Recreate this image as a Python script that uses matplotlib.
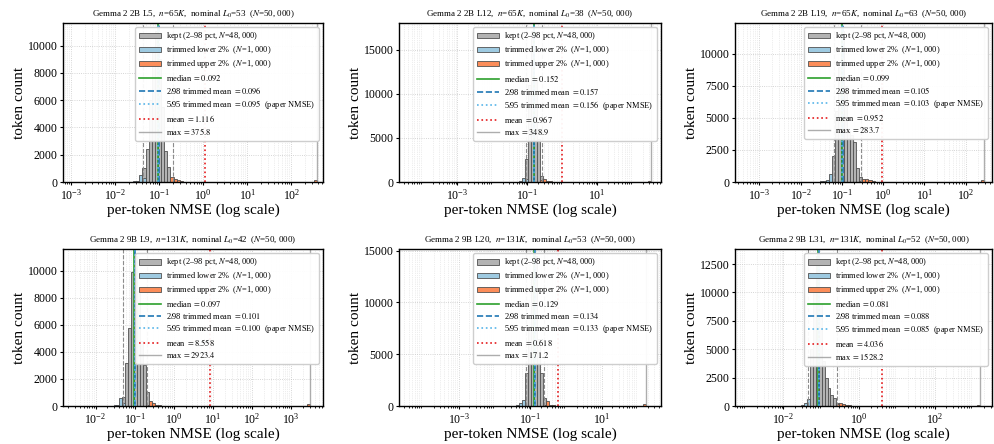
import numpy as np
import matplotlib
matplotlib.use("Agg")
import matplotlib.pyplot as plt
from matplotlib.ticker import LogLocator

plt.rcParams["font.family"] = "serif"
plt.rcParams["font.serif"] = ["Liberation Serif", "DejaVu Serif"]
plt.rcParams["mathtext.fontset"] = "stix"

# --- panel metadata -------------------------------------------------------
models = ["2B", "2B", "2B", "9B", "9B", "9B"]
layers = [5, 12, 19, 9, 20, 31]
widths = ["65", "65", "65", "131", "131", "131"]   # thousands of latents
nominal_l0 = [53, 38, 63, 42, 53, 52]
n_tokens = 50000
n_kept = 48000
n_trim = 1000

# --- summary statistics (per-token NMSE) ----------------------------------
nmse_min = [8.3e-4, 4.9e-5, 3.5e-4, 2.5e-3, 4.5e-5, 1.0e-3]
nmse_max = [375.8, 348.9, 283.7, 2923.4, 171.2, 1528.2]
medians = [0.092, 0.152, 0.099, 0.097, 0.129, 0.081]
tmean_2_98 = [0.096, 0.157, 0.105, 0.101, 0.134, 0.088]
tmean_5_95 = [0.095, 0.156, 0.103, 0.100, 0.133, 0.085]
means = [1.116, 0.967, 0.952, 8.558, 0.618, 4.036]
pct_2 = [0.0433, 0.094, 0.064, 0.0508, 0.0776, 0.0455]
pct_98 = [0.206, 0.26, 0.297, 0.208, 0.251, 0.264]
n_bins = 80

# --- histogram counts on 80 log bins (min..max): {bin index: tokens} -----
kept_counts = [
    {24: 1000, 25: 2450, 26: 6000, 27: 9500, 28: 11100, 29: 9000, 30: 5500,
     31: 2300, 32: 1100, 33: 50},
    {38: 2600, 39: 11000, 40: 17200, 41: 11500, 42: 4900, 43: 700, 44: 100},
    {30: 2000, 31: 5500, 32: 9000, 33: 11800, 34: 7500, 35: 4000, 36: 3700,
     37: 3150, 38: 1100, 39: 400},
    {17: 700, 18: 3150, 19: 5800, 20: 9900, 21: 11050, 22: 8500, 23: 4800,
     24: 3000, 25: 1000, 26: 100},
    {39: 3140, 40: 7500, 41: 12400, 42: 14440, 43: 6500, 44: 3200, 45: 800,
     46: 20},
    {21: 300, 22: 5000, 23: 10300, 24: 13170, 25: 8950, 26: 4000, 27: 2500,
     28: 1600, 29: 1000, 30: 700, 31: 300},
]
lower_counts = [
    {0: 1, 8: 1, 12: 2, 15: 3, 17: 5, 19: 10, 20: 25, 21: 45, 22: 90,
     23: 500, 24: 318},
    {0: 1, 10: 1, 18: 1, 24: 2, 28: 3, 31: 5, 33: 10, 34: 20, 35: 45,
     36: 110, 37: 500, 38: 302},
    {0: 1, 5: 1, 10: 1, 15: 2, 18: 3, 20: 4, 22: 6, 23: 10, 24: 18, 25: 30,
     26: 50, 27: 90, 28: 180, 29: 600, 30: 4},
    {0: 1, 4: 1, 8: 2, 11: 3, 13: 8, 14: 40, 15: 110, 16: 600, 17: 235},
    {0: 1, 12: 1, 20: 1, 26: 2, 30: 3, 32: 4, 33: 8, 34: 15, 35: 30,
     36: 80, 37: 300, 38: 555},
    {0: 1, 6: 1, 10: 2, 13: 3, 15: 5, 17: 10, 18: 25, 19: 80, 20: 250,
     21: 623},
]
upper_counts = [
    {33: 370, 34: 250, 35: 120, 36: 60, 37: 30, 38: 15, 39: 8, 41: 5,
     43: 3, 46: 2, 50: 1, 78: 16, 79: 120},
    {43: 200, 44: 320, 45: 150, 46: 80, 47: 40, 48: 25, 49: 15, 50: 10,
     52: 5, 55: 3, 58: 2, 78: 30, 79: 120},
    {39: 40, 40: 250, 41: 240, 42: 160, 43: 70, 44: 35, 45: 20, 46: 12,
     48: 7, 50: 5, 53: 3, 57: 2, 78: 20, 79: 130},
    {25: 50, 26: 350, 27: 200, 28: 100, 29: 50, 30: 30, 31: 20, 32: 12,
     34: 8, 36: 5, 39: 3, 43: 2, 50: 1, 78: 20, 79: 149},
    {45: 100, 46: 480, 47: 130, 48: 60, 49: 30, 50: 18, 51: 10, 53: 6,
     55: 4, 58: 3, 62: 2, 66: 1, 78: 6, 79: 150},
    {31: 194, 32: 260, 33: 170, 34: 100, 35: 60, 36: 35, 37: 20, 38: 12,
     40: 8, 42: 5, 45: 3, 49: 2, 55: 1, 78: 10, 79: 120},
]

# axis extents in decades (layout)
xlims_log = [(-3.19, 2.72), (-4.66, 2.82), (-3.59, 2.64),
             (-2.83, 3.81), (-4.67, 2.66), (-3.28, 3.51)]

# axes rectangles in pixels: left, top, width, height
W, H = 994, 444
col_px = [(63, 260), (399, 262), (735, 257)]
row_px = [(23, 159), (249, 157)]

fig = plt.figure(figsize=(W / 100, H / 100), dpi=100)


def to_array(d):
    arr = np.zeros(n_bins)
    for k, v in d.items():
        arr[k] = v
    return arr


def spaced(n):
    # "48, 000" style thousands separator as in the original figure
    return f"{n:,}".replace(",", ", ")


for i in range(6):
    r, c = divmod(i, 3)
    lx, w = col_px[c]
    ty, h = row_px[r]
    ax = fig.add_axes([lx / W, 1 - (ty + h) / H, w / W, h / H])

    edges = np.logspace(np.log10(nmse_min[i]), np.log10(nmse_max[i]), n_bins + 1)
    centers = np.sqrt(edges[:-1] * edges[1:])

    ax.hist(centers, bins=edges, weights=to_array(kept_counts[i]),
            color="#b3b3b3", edgecolor="#505050", linewidth=0.6,
            label=f"kept (2–98 pct, $N$={spaced(n_kept)})")
    ax.hist(centers, bins=edges, weights=to_array(lower_counts[i]),
            color="#9ecae1", edgecolor="#505050", linewidth=0.6,
            label=f"trimmed lower 2%  ($N$={spaced(n_trim)})")
    ax.hist(centers, bins=edges, weights=to_array(upper_counts[i]),
            color="#fc8d59", edgecolor="#505050", linewidth=0.6,
            label=f"trimmed upper 2%  ($N$={spaced(n_trim)})")

    ax.axvline(pct_2[i], color="#8c8c8c", ls="--", lw=0.8)
    ax.axvline(pct_98[i], color="#8c8c8c", ls="--", lw=0.8)
    ax.axvline(medians[i], color="#2ca02c", ls="-", lw=1.2,
               label=f"median $={medians[i]:.3f}$")
    ax.axvline(tmean_2_98[i], color="#1f77b4", ls="--", lw=1.2,
               label=f"2/98 trimmed mean $={tmean_2_98[i]:.3f}$")
    ax.axvline(tmean_5_95[i], color="#56b4e9", ls=":", lw=1.2,
               label=f"5/95 trimmed mean $={tmean_5_95[i]:.3f}$  (paper NMSE)")
    ax.axvline(means[i], color="#e41a1c", ls=":", lw=1.2,
               label=f"mean $={means[i]:.3f}$")
    ax.axvline(nmse_max[i], color="#999999", ls="-", lw=1.0, alpha=0.8,
               label=f"max $={nmse_max[i]:.1f}$")

    ax.set_xscale("log")
    ax.set_xlim(10 ** xlims_log[i][0], 10 ** xlims_log[i][1])
    ax.xaxis.set_major_locator(LogLocator(base=10, numticks=6))
    ax.set_axisbelow(True)
    ax.grid(True, which="major", ls=":", lw=0.6, color="#c8c8c8")
    ax.grid(True, which="minor", axis="x", ls=":", lw=0.5, color="#dcdcdc")
    ax.tick_params(which="major", labelsize=8.5, length=2.5, pad=1.5)
    ax.tick_params(which="minor", length=1.5)
    for s in ax.spines.values():
        s.set_linewidth(1.0)

    ax.set_title(f"Gemma 2 {models[i]} L{layers[i]},  $n$={widths[i]}$K$,  "
                 f"nominal $L_0$={nominal_l0[i]}  ($N$={spaced(n_tokens)})",
                 fontsize=6.5, pad=5)
    ax.set_xlabel("per-token NMSE (log scale)", fontsize=11, labelpad=1)
    ax.set_ylabel("token count", fontsize=11, labelpad=1)
    ax.legend(loc="upper right", fontsize=6.0, framealpha=0.95,
              borderpad=0.4, labelspacing=0.26, handlelength=2.7,
              handletextpad=0.6)

fig.savefig("out.png", dpi=100)
